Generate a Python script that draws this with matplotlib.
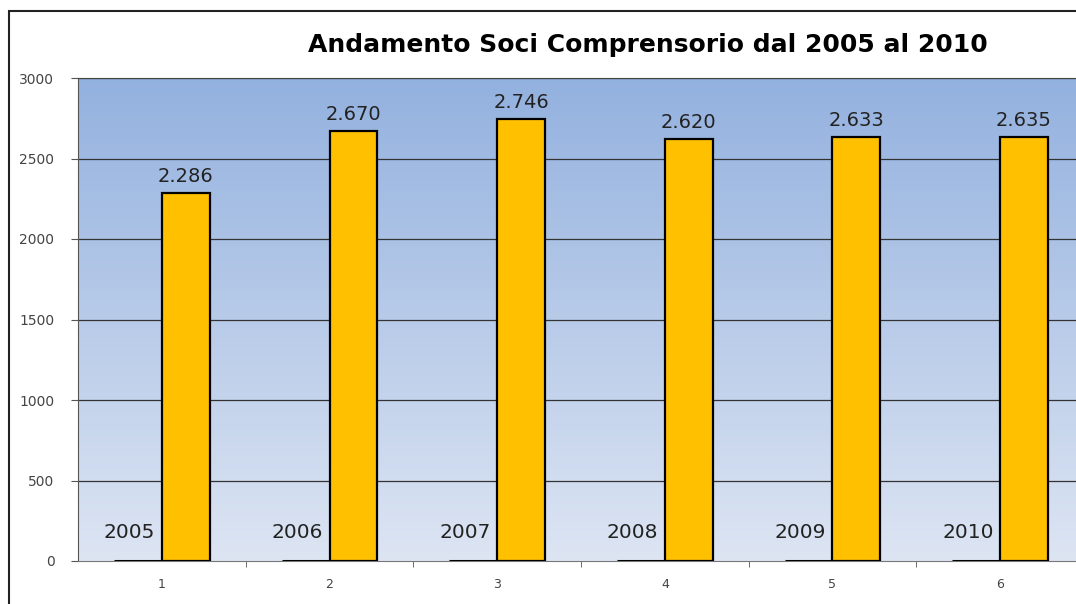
import numpy as np
import matplotlib.pyplot as plt
from matplotlib.patches import Rectangle
from matplotlib.colors import LinearSegmentedColormap

# Dati
categorie = [1, 2, 3, 4, 5, 6]
anni = ["2005", "2006", "2007", "2008", "2009", "2010"]
anni_valori = [0, 0, 0, 0, 0, 0]
soci = [2286, 2670, 2746, 2620, 2633, 2635]
etichette_soci = ["2.286", "2.670", "2.746", "2.620", "2.633", "2.635"]

plt.rcParams["font.family"] = ["DejaVu Sans"]

W, H = 1076, 604
fig = plt.figure(figsize=(W / 100, H / 100), dpi=100)

# Area del grafico (destra tagliata come nell'originale)
left, right, top, bottom = 78, 1084, 78, 561
ax = fig.add_axes([left / W, 1 - bottom / H, (right - left) / W, (bottom - top) / H])

x = np.array(categorie)
w = 0.285

# Sfondo sfumato
grad = np.linspace(0, 1, 256).reshape(-1, 1)
cmap = LinearSegmentedColormap.from_list("bg", ["#dde5f3", "#93b1df"])
ax.imshow(grad, aspect="auto", cmap=cmap, origin="lower",
          extent=[0.5, 6.5, 0, 3000], zorder=0)

# Griglia
for yv in range(500, 3001, 500):
    ax.axhline(yv, color="#333333", linewidth=0.9, zorder=1)

# Serie anni (barre piatte) e soci
ax.bar(x - w / 2, anni_valori, width=w, color="#FFC000",
       edgecolor="black", linewidth=2.2, zorder=3)
ax.bar(x + w / 2, soci, width=w, color="#FFC000",
       edgecolor="black", linewidth=1.6, zorder=3)

for xi, a in zip(x, anni):
    ax.text(xi - w / 2 - 0.05, 120, a, ha="center", va="bottom",
            fontsize=14.5, color="#222222", zorder=4)
for xi, v, lab in zip(x, soci, etichette_soci):
    ax.text(xi + w / 2, v + 45, lab, ha="center", va="bottom",
            fontsize=14, color="#222222", zorder=4)

ax.set_xlim(0.5, 6.5)
ax.set_ylim(0, 3000)
ax.set_yticks(range(0, 3001, 500))
ax.set_xticks(x)
ax.set_xticklabels([str(c) for c in categorie])
ax.set_xticks(np.arange(1.5, 6.5, 1), minor=True)
ax.tick_params(axis="x", which="major", length=0, pad=12, labelsize=9, labelcolor="#444444")
ax.tick_params(axis="x", which="minor", length=4, color="#555555", direction="out")
ax.tick_params(axis="y", length=5, color="#555555", labelsize=10,
               labelcolor="#444444", pad=12)

ax.spines["right"].set_visible(False)
ax.spines["top"].set_color("#444444")
ax.spines["left"].set_color("#555555")
ax.spines["bottom"].set_color("#777777")

# Titolo
fig.text(648 / W, 1 - 45 / H, "Andamento Soci Comprensorio dal 2005 al 2010",
         ha="center", va="center", fontsize=18, fontweight="bold", color="black")

# Cornice esterna
fig.patches.append(Rectangle((9 / W, -0.1), 1.2, 1 - 11 / H + 0.1,
                             transform=fig.transFigure, fill=False,
                             edgecolor="#222222", linewidth=1.5))

plt.savefig("out.png", dpi=100)
